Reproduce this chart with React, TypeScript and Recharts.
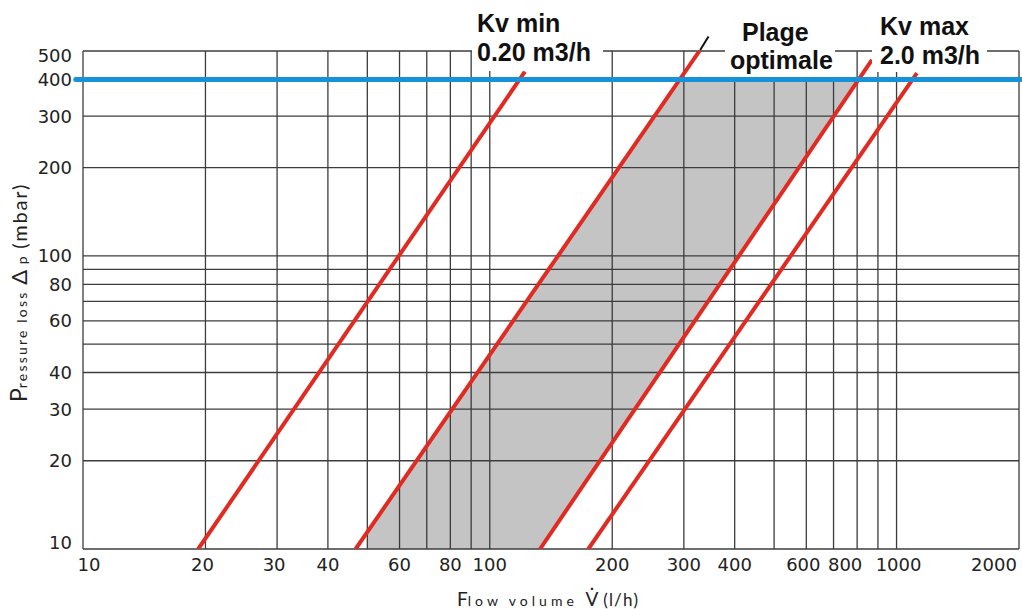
import React from 'react';
import { ComposedChart, Line, Area, XAxis, YAxis, CartesianGrid, ReferenceLine } from 'recharts';

// axis ticks (grid) and the ones that carry a label
const FLOW_TICKS = [10, 20, 30, 40, 50, 60, 70, 80, 90, 100, 200, 300, 400, 500, 600, 700, 800, 900, 1000, 2000];
const FLOW_LABELS = [10, 20, 30, 40, 60, 80, 100, 200, 300, 400, 600, 800, 1000, 2000];
const LOSS_TICKS = [10, 20, 30, 40, 50, 60, 70, 80, 90, 100, 200, 300, 400, 500];
const LOSS_LABELS = [10, 20, 30, 40, 60, 80, 100, 200, 300, 400, 500];

// Kv lines, flow (l/h) vs pressure loss (mbar)
const kvMinFlow = [19.2, 122];
const kvMinLoss = [10, 425];
const kv2Flow = [46.8, 329];
const kv2Loss = [10, 504];
const kv3Flow = [132.9, 870];
const kv3Loss = [10, 466];
const kvMaxFlow = [174.7, 1122];
const kvMaxLoss = [10, 420];

// "Plage optimale" band corners
const bandFlow = [50, 132.9, 293.8, 806];
const bandLow = [10, 10, 50.8, 400];
const bandHigh = [11.4, 81.3, 400, 400];

// leader tip of the "Plage optimale" note
const leaderFlow = [329, 345];
const leaderLoss = [504, 560];

const LIMIT_LOSS = 400;

const rows: any[] = [];
const put = (v: number, key: string, val: any) => {
  let r = rows.find((row) => row.v === v);
  if (!r) {
    r = { v };
    rows.push(r);
  }
  r[key] = val;
};
kvMinFlow.forEach((v, i) => put(v, 'l1', kvMinLoss[i]));
kv2Flow.forEach((v, i) => put(v, 'l2', kv2Loss[i]));
kv3Flow.forEach((v, i) => put(v, 'l3', kv3Loss[i]));
kvMaxFlow.forEach((v, i) => put(v, 'l4', kvMaxLoss[i]));
bandFlow.forEach((v, i) => put(v, 'band', [bandLow[i], bandHigh[i]]));
rows.sort((a, b) => a.v - b.v);

const RED = '#e02a22';
const BLUE = '#1592d8';
const GRID = '#3c3c3c';
const TICK_FONT = '"DejaVu Sans", sans-serif';
const TITLE_FONT = 'Lato, "DejaVu Sans", sans-serif';
const BOLD_FONT = '"Liberation Sans", Arial, sans-serif';
const W = 1022;
const H = 609;
const MARGIN = { top: 51, right: 3, bottom: 0, left: 0 };

const xShift: Record<number, number> = { 10: 6, 20: -3, 30: -3, 600: -3, 800: -12, 1000: 2, 2000: -25 };
const yShift: Record<number, number> = { 500: 5, 10: -6 };

const FlowTick = ({ x, y, payload }: any) => {
  if (!FLOW_LABELS.includes(payload.value)) return <g />;
  return (
    <text x={x + (xShift[payload.value] || 0)} y={y + 22} textAnchor="middle"
      fontFamily={TICK_FONT} fontSize={18} fill="#222">
      {payload.value}
    </text>
  );
};

const LossTick = ({ x, y, payload }: any) => {
  if (!LOSS_LABELS.includes(payload.value)) return <g />;
  return (
    <text x={x - 11} y={y + (yShift[payload.value] || 0)} dy="0.36em" textAnchor="end"
      fontFamily={TICK_FONT} fontSize={18} fill="#222">
      {payload.value}
    </text>
  );
};

const layer: React.CSSProperties = { position: 'absolute', left: 0, top: 0 };

const App = () => {
  return (
    <div style={{ position: 'absolute', left: 0, top: 0, width: W, height: H, background: '#fff' }}>
      {/* bottom layer: the shaded optimal range */}
      <div style={layer}>
        <ComposedChart width={W} height={H} data={rows} margin={MARGIN}>
          <XAxis dataKey="v" type="number" scale="log" domain={[10, 2000]} allowDataOverflow
            ticks={FLOW_TICKS} tick={false} tickSize={0} axisLine={false} tickLine={false} height={60} />
          <YAxis type="number" scale="log" domain={[10, 500]} allowDataOverflow
            ticks={LOSS_TICKS} tick={false} tickSize={0} axisLine={false} tickLine={false} width={83} />
          <Area dataKey="band" type="linear" fill="#c3c4c3" fillOpacity={1} stroke="none"
            connectNulls isAnimationActive={false} />
        </ComposedChart>
      </div>

      {/* top layer: grid, Kv lines, limit */}
      <div style={layer}>
        <ComposedChart width={W} height={H} data={rows} margin={MARGIN}>
          <XAxis dataKey="v" type="number" scale="log" domain={[10, 2000]} allowDataOverflow
            ticks={FLOW_TICKS} interval={0} tick={<FlowTick />} tickSize={0} tickMargin={0}
            axisLine={false} tickLine={false} height={60} />
          <YAxis type="number" scale="log" domain={[10, 500]} allowDataOverflow
            ticks={LOSS_TICKS} interval={0} tick={<LossTick />} tickSize={0} tickMargin={0}
            axisLine={false} tickLine={false} width={83} />
          <CartesianGrid stroke={GRID} strokeWidth={1.3} />
          <Line dataKey="l1" type="linear" stroke={RED} strokeWidth={4} dot={false} connectNulls isAnimationActive={false} />
          <Line dataKey="l2" type="linear" stroke={RED} strokeWidth={4} dot={false} connectNulls isAnimationActive={false} />
          <Line dataKey="l3" type="linear" stroke={RED} strokeWidth={4} dot={false} connectNulls isAnimationActive={false} />
          <Line dataKey="l4" type="linear" stroke={RED} strokeWidth={4} dot={false} connectNulls isAnimationActive={false} />
          <ReferenceLine segment={[{ x: leaderFlow[0], y: leaderLoss[0] }, { x: leaderFlow[1], y: leaderLoss[1] }]}
            stroke="#111" strokeWidth={2} ifOverflow="visible" />
          <ReferenceLine segment={[{ x: 9.6, y: LIMIT_LOSS }, { x: 2040, y: LIMIT_LOSS }]}
            stroke={BLUE} strokeWidth={5} strokeLinecap="round" ifOverflow="visible" />
        </ComposedChart>
      </div>

      <svg width={W} height={H} style={{ ...layer, pointerEvents: 'none' }}>
        {/* note boxes */}
        <rect x={472} y={0} width={131} height={71} fill="#fff" />
        <rect x={725} y={0} width={110} height={77} fill="#fff" />
        <rect x={872} y={0} width={115} height={72} fill="#fff" />
        <g fontFamily={BOLD_FONT} fontWeight="bold" fontSize={25} fill="#111">
          <text x={477} y={32}>Kv min</text>
          <text x={477} y={61}>0.20 m3/h</text>
          <text x={742} y={41}>Plage</text>
          <text x={730} y={69}>optimale</text>
          <text x={880} y={35}>Kv max</text>
          <text x={880} y={63.5}>2.0 m3/h</text>
        </g>

        {/* axis titles */}
        <text transform="translate(27, 402) rotate(-90)" fontFamily={TITLE_FONT} fill="#222">
          <tspan fontSize={23}>P</tspan>
          <tspan fontSize={14} letterSpacing={2.2}>ressure loss </tspan>
          <tspan fontSize={22}>Δ </tspan>
          <tspan fontSize={14} letterSpacing={2}>p </tspan>
          <tspan fontSize={20} letterSpacing={1.8}>(mbar)</tspan>
        </text>
        <text x={457} y={606} fontFamily={TITLE_FONT} fill="#222">
          <tspan fontSize={19}>F</tspan>
          <tspan fontSize={14} letterSpacing={4}>low volume </tspan>
          <tspan fontSize={19}>{'V\u0307'} </tspan>
          <tspan fontSize={17} letterSpacing={1.2}>(l/h)</tspan>
        </text>
      </svg>
    </div>
  );
};

export default App;
